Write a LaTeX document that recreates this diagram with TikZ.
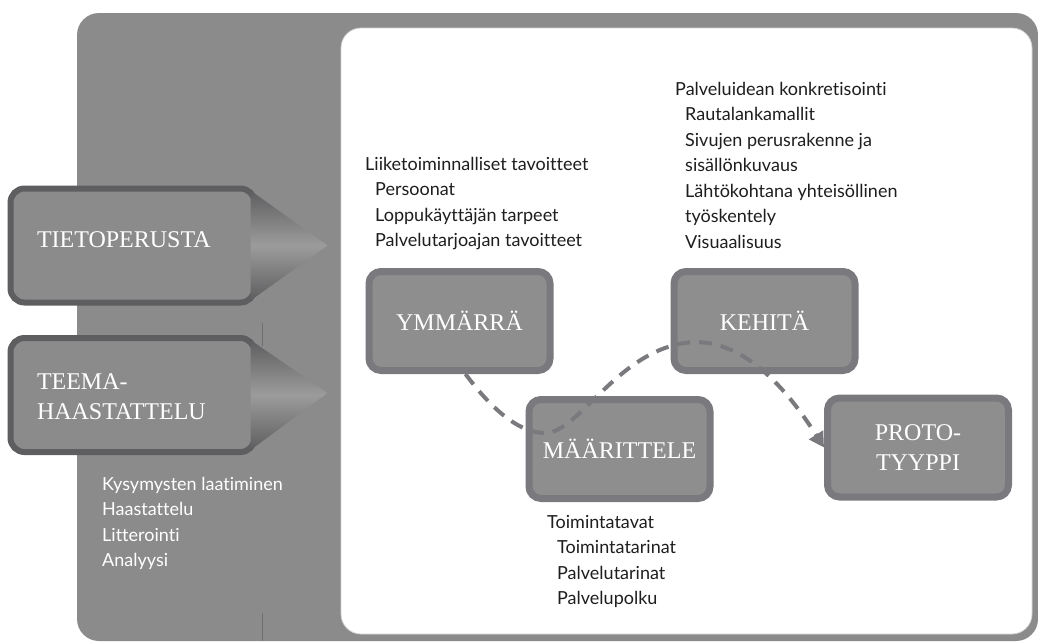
\documentclass[tikz,border=0pt]{standalone}
\usepackage{fontspec}
\setmainfont{Liberation Serif}
\newfontfamily\notefont[Ligatures={NoCommon,NoRare,NoContextual}]{Lato}
\usepackage{tikz}
\usetikzlibrary{arrows.meta,positioning,calc}
\definecolor{panelgray}{HTML}{8B8B8B}
\definecolor{armedge}{HTML}{5E5E60}
\definecolor{stageedge}{HTML}{7A7A7E}
\definecolor{stagefill}{HTML}{8E8E8E}
\definecolor{notetext}{HTML}{1E1E1E}
\newcommand{\subline}{\hspace*{10pt}}

\begin{document}
\begin{tikzpicture}[
  x=1pt, y=-1pt,
  >={Triangle[length=15pt,width=16pt]},
  armbox/.style={rectangle, draw=armedge, fill=panelgray, line width=6pt,
                 rounded corners=14pt, minimum width=244pt, minimum height=114pt,
                 text width=191pt, inner xsep=26.5pt, align=left, text=white,
                 font=\fontsize{24}{30}\selectfont},
  armtip/.style={top color=armedge, bottom color=armedge, middle color=gray!78},
  stagebox/.style={rectangle, draw=stageedge, fill=stagefill, line width=7pt,
                   rounded corners=12pt, minimum width=181pt, minimum height=99pt,
                   align=center, text=white, font=\fontsize{24}{30}\selectfont},
  note/.style={anchor=north west, inner sep=0pt, align=left, text=notetext,
               font=\notefont\fontsize{18}{25.5}\selectfont},
  flowdash/.style={->, draw=stageedge, line width=4pt, dash pattern=on 13pt off 9pt}
]
\useasboundingbox (0,0) rectangle (1038,641);

% ---------- Panels ----------
\fill[panelgray, rounded corners=22pt] (77,13) rectangle (1038,641);
\filldraw[fill=white, draw=gray!35, line width=0.8pt, rounded corners=20pt]
  (341,28) rectangle (1032,634);
\draw[panelgray!80!black, line width=0.8pt] (262,323) -- (262,346);
\draw[panelgray!80!black, line width=0.8pt] (262,613) -- (262,641);

% ---------- Input arrows ----------
\node[armbox, text depth=11pt] (tieto) at (132.5,245.5) {TIETOPERUSTA};
\shade[armtip] ($(tieto.north east)+(-7,5)$) -- ($(tieto.east)+(70,0)$)
  -- ($(tieto.south east)+(-7,-5)$) -- cycle;
\node[armbox, text height=19pt] (teema) at (132.5,395) {TEEMA-\\HAASTATTELU};
\shade[armtip] ($(teema.north east)+(-7,5)$) -- ($(teema.east)+(70,-2)$)
  -- ($(teema.south east)+(-7,-5)$) -- cycle;
\node[note, text=white] (tasks) at (102,472.15)
  {\strut Kysymysten laatiminen\\Haastattelu\\Litterointi\\Analyysi};

% ---------- Stages ----------
\node[stagebox] (ymm) at (459.5,321) {YMMÄRRÄ};
\node[stagebox, right=117pt of ymm] (keh) {KEHITÄ};
\node[stagebox] (maar) at (619.5,449) {MÄÄRITTELE};
\node[stagebox] (proto) at (918,447.5) {PROTO-\\TYYPPI};

% path through the stages
\coordinate (dip) at (545,433);
\coordinate (crest) at (695,342);
\draw[flowdash] ([xshift=6pt]ymm.south) .. controls +(20,27) and +(-30,0) .. (dip)
  .. controls +(35,0) and +(-75,3) .. (crest)
  .. controls +(50,0) and +(-38,-60) .. (proto.west);

% ---------- Notes ----------
\node[note] (ymmnote) at (365,152.15)
  {\strut Liiketoiminnalliset tavoitteet\\\subline Persoonat\\
   \subline Loppukäyttäjän tarpeet\\\subline Palvelutarjoajan tavoitteet};
\node[note] (kehnote) at (675,77.15)
  {\strut Palveluidean konkretisointi\\\subline Rautalankamallit\\
   \subline Sivujen perusrakenne ja\\\subline sisällönkuvaus\\
   \subline Lähtökohtana yhteisöllinen\\\subline työskentely\\
   \subline Visuaalisuus};
\node[note, below right=8pt and 21.5pt of maar.south west] (maarnote)
  {\strut Toimintatavat\\\subline Toimintatarinat\\
   \subline Palvelutarinat\\\subline Palvelupolku};

\end{tikzpicture}
\end{document}
